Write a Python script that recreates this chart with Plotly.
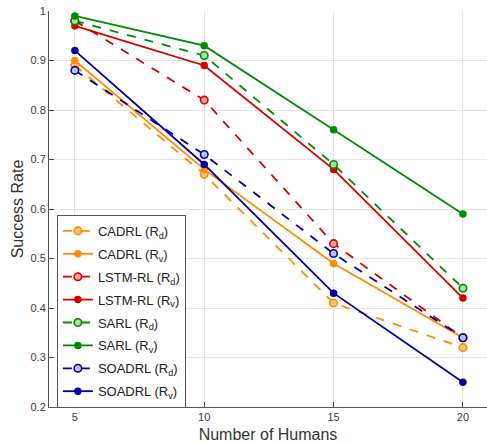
import plotly.graph_objects as go

humans = [5, 10, 15, 20]
cadrl_rd = [0.89, 0.67, 0.41, 0.32]
cadrl_rv = [0.90, 0.68, 0.49, 0.34]
lstm_rd = [0.98, 0.82, 0.53, 0.34]
lstm_rv = [0.97, 0.89, 0.68, 0.42]
sarl_rd = [0.98, 0.91, 0.69, 0.44]
sarl_rv = [0.99, 0.93, 0.76, 0.59]
soadrl_rd = [0.88, 0.71, 0.51, 0.34]
soadrl_rv = [0.92, 0.69, 0.43, 0.25]
x_ticks = [5, 10, 15, 20]
y_ticks = [0.2, 0.3, 0.4, 0.5, 0.6, 0.7, 0.8, 0.9, 1.0]
y_ticklabels = ["0.2", "0.3", "0.4", "0.5", "0.6", "0.7", "0.8", "0.9", "1"]

series = [
    ("CADRL (R<sub>d</sub>)", cadrl_rd, "#ff8c00", "#ffc27a", True),
    ("CADRL (R<sub>v</sub>)", cadrl_rv, "#ff8c00", None, False),
    ("LSTM-RL (R<sub>d</sub>)", lstm_rd, "#d40000", "#f2a0a0", True),
    ("LSTM-RL (R<sub>v</sub>)", lstm_rv, "#d40000", None, False),
    ("SARL (R<sub>d</sub>)", sarl_rd, "#008a00", "#a6e0a6", True),
    ("SARL (R<sub>v</sub>)", sarl_rv, "#008a00", None, False),
    ("SOADRL (R<sub>d</sub>)", soadrl_rd, "#000099", "#b8c4f0", True),
    ("SOADRL (R<sub>v</sub>)", soadrl_rv, "#000099", None, False),
]

fig = go.Figure()
for i, (name, vals, col, fill, dashed) in enumerate(series):
    fig.add_trace(go.Scatter(
        x=humans, y=vals, name=name, mode="lines+markers",
        legendgroup="g%d" % i,
        line=dict(color=col, width=1.8, dash="dash" if dashed else "solid"),
        marker=dict(symbol="circle", size=7.5,
                    color=fill if dashed else col,
                    line=dict(color=col, width=1.6 if dashed else 0)),
    ))

font = "Liberation Sans, Arial, sans-serif"
fig.update_layout(
    width=487, height=443,
    margin=dict(l=49, r=0, t=11, b=36),
    paper_bgcolor="white", plot_bgcolor="white",
    font=dict(family=font, size=11, color="#404040"),
    showlegend=True,
    legend=dict(
        x=0.018, y=0.485, xanchor="left", yanchor="top",
        bordercolor="#555555", borderwidth=1, bgcolor="white",
        font=dict(size=13, color="#222222", family=font),
        tracegroupgap=3, itemwidth=30,
    ),
    xaxis=dict(
        range=[4, 20.93], tickvals=x_ticks, ticks="inside", ticklen=5,
        showline=True, linecolor="#555555", linewidth=1,
        showgrid=True, gridcolor="#e4e4e4", gridwidth=1, zeroline=False,
        title=dict(text="Number of Humans", font=dict(size=16, color="#333333"), standoff=6),
        tickfont=dict(size=11, color="#404040"),
    ),
    yaxis=dict(
        range=[0.2, 1.0], tickvals=y_ticks, ticktext=y_ticklabels,
        ticks="inside", ticklen=5,
        showline=True, linecolor="#555555", linewidth=1,
        showgrid=True, gridcolor="#e4e4e4", gridwidth=1, zeroline=False,
        title=dict(text="Success Rate", font=dict(size=16, color="#333333"), standoff=2),
        tickfont=dict(size=11, color="#404040"),
    ),
)

fig.write_html("out.html")
